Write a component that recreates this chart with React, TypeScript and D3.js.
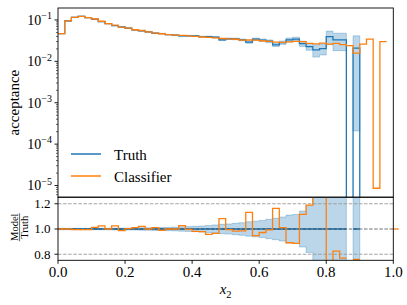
import React, { useRef, useEffect } from "react";
import * as d3 from "d3";

// 50 equal bins on [0, 1]
const binCount = 50;
const xDomain = [0, 1];

const truth = [
  0.0468, 0.0946, 0.116, 0.1227, 0.114, 0.104, 0.091, 0.0815, 0.073, 0.0678,
  0.063, 0.0574, 0.0545, 0.0514, 0.0477, 0.047, 0.0443, 0.0428, 0.0411, 0.0415,
  0.041, 0.0396, 0.0396, 0.0382, 0.033, 0.0352, 0.0348, 0.033, 0.029, 0.0343,
  0.0324, 0.0306, 0.025, 0.0284, 0.033, 0.0343, 0.0268, 0.0228, 0.0189, 0.0204,
  0.0396, 0.033, 0.033, 0, 0.0208, 0, 0, 0, 0, 0,
];

// relative uncertainty of the truth histogram
const truthRelErr = [
  0.006, 0.005, 0.005, 0.005, 0.005, 0.005, 0.006, 0.006, 0.007, 0.007,
  0.008, 0.008, 0.009, 0.01, 0.011, 0.012, 0.013, 0.015, 0.017, 0.019,
  0.021, 0.024, 0.028, 0.032, 0.037, 0.04, 0.045, 0.05, 0.057, 0.062,
  0.068, 0.077, 0.085, 0.095, 0.11, 0.115, 0.142, 0.186, 0.33, 0.3,
  0.36, 0.45, 0.45, 0, 0.99, 0, 0, 0, 0, 0,
];

const classifier = [
  0.0468, 0.0946, 0.1154, 0.1221, 0.1134, 0.1054, 0.0932, 0.0815, 0.0748, 0.0669,
  0.0632, 0.058, 0.0556, 0.0514, 0.0482, 0.0465, 0.0443, 0.0428, 0.0422, 0.0414,
  0.0402, 0.0388, 0.0379, 0.0369, 0.0357, 0.035, 0.0342, 0.0325, 0.0328, 0.0325,
  0.0315, 0.0304, 0.0291, 0.0287, 0.0294, 0.0304, 0.0299, 0.0271, 0.0264, 0.0275,
  0.0262, 0.0272, 0.0254, 0.024, 0.0158, 0.026, 0.0343, 0.0000086, 0.03, NaN,
];

const logTickExps = [-5, -4, -3, -2, -1];
const ratioTicks = [0.8, 1.0, 1.2];
const xTicks = [0, 0.2, 0.4, 0.6, 0.8, 1.0];
const seriesNames = ["Truth", "Classifier"];

const BLUE = "#1f77b4";
const ORANGE = "#ff7f0e";
const FONT = "'Liberation Serif', 'DejaVu Serif', serif";

type Pt = { x: number; y: number; y0?: number } | null;

export default function App() {
  const svgRef = useRef<SVGSVGElement>(null);

  useEffect(() => {
    if (!svgRef.current) return;
    const svg = d3.select(svgRef.current);
    svg.selectAll("*").remove();

    const left = 58, right = 393.3;
    const top0 = 8, top1 = 197.2;
    const rat0 = 197.2, rat1 = 260.3;

    const x = d3.scaleLinear().domain(xDomain).range([left, right]);
    const y = d3.scaleLog().domain([Math.pow(10, -5.282), Math.pow(10, -0.711)]).range([top1, top0]);
    const yr = d3.scaleLinear().domain([0.752, 1.252]).range([rat1, rat0]);

    const edge = (i: number) => xDomain[0] + ((xDomain[1] - xDomain[0]) * i) / binCount;
    const floorLog = (v: number) => (v > 0 ? v : 1e-12);

    // histogram -> step points (two per bin), null where undefined
    const steps = (vals: number[], ok: (i: number) => boolean, lo?: (i: number) => number): Pt[] => {
      const pts: Pt[] = [];
      vals.forEach((v, i) => {
        if (!ok(i)) { pts.push(null); return; }
        const y0 = lo ? lo(i) : undefined;
        pts.push({ x: edge(i), y: v, y0 });
        pts.push({ x: edge(i + 1), y: v, y0 });
      });
      return pts;
    };

    const defs = svg.append("defs");
    defs.append("clipPath").attr("id", "clipTop").append("rect")
      .attr("x", left).attr("y", top0).attr("width", right - left).attr("height", top1 - top0);
    defs.append("clipPath").attr("id", "clipRat").append("rect")
      .attr("x", left).attr("y", rat0).attr("width", right - left).attr("height", rat1 - rat0);

    // ---------- top panel ----------
    const gTop = svg.append("g").attr("clip-path", "url(#clipTop)");

    const bandTop = steps(
      truth.map((v, i) => v * (1 + truthRelErr[i])),
      (i) => truth[i] > 0,
      (i) => truth[i] * (1 - truthRelErr[i])
    );
    const areaTop = d3.area<Pt>()
      .defined((d) => d !== null)
      .x((d) => x(d!.x))
      .y0((d) => y(floorLog(d!.y0 as number)))
      .y1((d) => y(floorLog(d!.y)));
    gTop.append("path").attr("d", areaTop(bandTop) || "")
      .attr("fill", BLUE).attr("fill-opacity", 0.3)
      .attr("stroke", BLUE).attr("stroke-opacity", 0.3).attr("stroke-width", 1);

    const lineTop = d3.line<Pt>()
      .defined((d) => d !== null)
      .x((d) => x(d!.x))
      .y((d) => y(floorLog(d!.y)));

    gTop.append("path").attr("d", lineTop(steps(truth, () => true)) || "")
      .attr("fill", "none").attr("stroke", BLUE).attr("stroke-width", 1.3);
    gTop.append("path").attr("d", lineTop(steps(classifier, (i) => !isNaN(classifier[i]))) || "")
      .attr("fill", "none").attr("stroke", ORANGE).attr("stroke-width", 1.3);

    // log axis ticks
    const axTop = svg.append("g").attr("stroke", "#000");
    const [dLo, dHi] = y.domain();
    for (let e = -7; e <= 0; e++) {
      for (let k = 1; k <= 9; k++) {
        const v = k * Math.pow(10, e);
        if (v < dLo || v > dHi) continue;
        const len = k === 1 ? 3.5 : 2;
        axTop.append("line").attr("x1", left - len).attr("x2", left)
          .attr("y1", y(v)).attr("y2", y(v)).attr("stroke-width", k === 1 ? 0.9 : 0.6);
      }
    }
    logTickExps.forEach((e) => {
      const t = svg.append("text").attr("x", 52).attr("y", y(Math.pow(10, e)) + 4.8)
        .attr("text-anchor", "end").attr("font-family", FONT).attr("font-size", 14);
      t.append("tspan").text("10");
      t.append("tspan").attr("dy", -5.5).attr("font-size", 10).text("\u2212" + Math.abs(e));
    });

    svg.append("rect").attr("x", left).attr("y", top0).attr("width", right - left).attr("height", top1 - top0)
      .attr("fill", "none").attr("stroke", "#000").attr("stroke-width", 0.9);

    svg.append("text").attr("transform", `translate(18.5,${(top0 + top1) / 2}) rotate(-90)`)
      .attr("text-anchor", "middle").attr("font-family", FONT).attr("font-size", 15).text("acceptance");

    // legend
    const legend = svg.selectAll(".legend").data(seriesNames).enter().append("g")
      .attr("class", "legend").attr("transform", (d, i) => `translate(71,${154 + i * 22})`);
    legend.append("line").attr("x1", 0).attr("x2", 30).attr("y1", 0).attr("y2", 0)
      .attr("stroke", (d, i) => (i === 0 ? BLUE : ORANGE)).attr("stroke-width", 1.5);
    legend.append("text").attr("x", 43).attr("y", 5.5).attr("font-family", FONT).attr("font-size", 15)
      .text((d) => d);

    // ---------- ratio panel ----------
    const gRat = svg.append("g").attr("clip-path", "url(#clipRat)");
    const bandRat = steps(
      truthRelErr.map((r) => 1 + r),
      (i) => truth[i] > 0,
      (i) => 1 - truthRelErr[i]
    );
    const areaRat = d3.area<Pt>()
      .defined((d) => d !== null)
      .x((d) => x(d!.x))
      .y0((d) => yr(d!.y0 as number))
      .y1((d) => yr(d!.y));
    gRat.append("path").attr("d", areaRat(bandRat) || "")
      .attr("fill", BLUE).attr("fill-opacity", 0.3)
      .attr("stroke", BLUE).attr("stroke-opacity", 0.3).attr("stroke-width", 1);

    const lineRat = d3.line<Pt>()
      .defined((d) => d !== null)
      .x((d) => x(d!.x))
      .y((d) => yr(Math.max(-50, Math.min(50, d!.y))));

    gRat.append("path").attr("d", lineRat(steps(truth.map(() => 1), (i) => truth[i] > 0)) || "")
      .attr("fill", "none").attr("stroke", BLUE).attr("stroke-width", 1.3);

    ratioTicks.forEach((t) => {
      gRat.append("line").attr("x1", left).attr("x2", right).attr("y1", yr(t)).attr("y2", yr(t))
        .attr("stroke", t === 1 ? "#333" : "#999").attr("stroke-opacity", t === 1 ? 0.7 : 0.9)
        .attr("stroke-width", 1).attr("stroke-dasharray", "3.5,1.6");
    });

    const ratio = classifier.map((c, i) => (truth[i] > 0 && !isNaN(c) ? c / truth[i] : NaN));
    gRat.append("path").attr("d", lineRat(steps(ratio, (i) => !isNaN(ratio[i]))) || "")
      .attr("fill", "none").attr("stroke", ORANGE).attr("stroke-width", 1.3);

    // small overhang of the reference at the right edge
    svg.append("line").attr("x1", x(1)).attr("x2", x(1.016)).attr("y1", yr(1)).attr("y2", yr(1))
      .attr("stroke", ORANGE).attr("stroke-width", 1.3);

    svg.append("rect").attr("x", left).attr("y", rat0).attr("width", right - left).attr("height", rat1 - rat0)
      .attr("fill", "none").attr("stroke", "#000").attr("stroke-width", 0.9);

    ratioTicks.forEach((t) => {
      svg.append("line").attr("x1", left - 3.5).attr("x2", left).attr("y1", yr(t)).attr("y2", yr(t))
        .attr("stroke", "#000").attr("stroke-width", 0.9);
      svg.append("text").attr("x", 50.5).attr("y", yr(t) + 4.3).attr("text-anchor", "end")
        .attr("font-family", FONT).attr("font-size", 13).text(t.toFixed(1));
    });

    xTicks.forEach((t) => {
      svg.append("line").attr("x1", x(t)).attr("x2", x(t)).attr("y1", rat1).attr("y2", rat1 + 3.5)
        .attr("stroke", "#000").attr("stroke-width", 0.9);
      svg.append("text").attr("x", x(t)).attr("y", 277.3).attr("text-anchor", "middle")
        .attr("font-family", FONT).attr("font-size", 15).text(t.toFixed(1));
    });

    // x label
    const xl = svg.append("text").attr("x", (left + right) / 2).attr("y", 294)
      .attr("text-anchor", "middle").attr("font-family", FONT).attr("font-size", 15);
    xl.append("tspan").attr("font-style", "italic").text("x");
    xl.append("tspan").attr("dy", 3.5).attr("font-size", 10.5).text("2");

    // Model / Truth fraction label
    const fr = svg.append("g").attr("transform", `translate(0,${(rat0 + rat1) / 2 - 1.5}) rotate(-90)`)
      .attr("font-family", FONT).attr("font-size", 10.5).attr("text-anchor", "middle");
    fr.append("text").attr("x", 0).attr("y", 17.8).text("Model");
    fr.append("line").attr("x1", -14).attr("x2", 14).attr("y1", 19.6).attr("y2", 19.6)
      .attr("stroke", "#000").attr("stroke-width", 0.6);
    fr.append("text").attr("x", 0).attr("y", 28.2).text("Truth");
  }, []);

  return (
    <svg
      ref={svgRef}
      width={407}
      height={305}
      style={{ position: "absolute", left: 0, top: 0, background: "#fff" }}
    />
  );
}
